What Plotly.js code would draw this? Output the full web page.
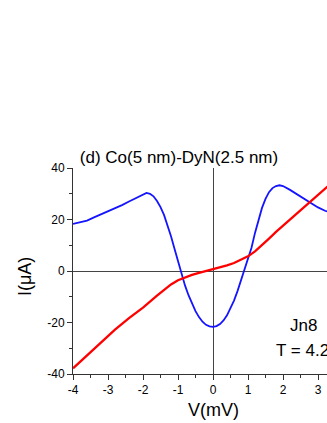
<!DOCTYPE html>
<html>
<head>
<meta charset="utf-8">
<script src="https://cdn.plot.ly/plotly-3.0.1.min.js"></script>
<style>
  html, body { margin: 0; padding: 0; background: #fff; }
  #chart { width: 327px; height: 423px; }
</style>
</head>
<body>
<div id="chart"></div>
<script>
// conductance-like curve (blue)
const blueV = [-4.0, -3.8, -3.6, -3.4, -3.2, -3.0, -2.8, -2.6, -2.4, -2.2, -2.0, -1.9, -1.8, -1.7, -1.6, -1.5,
  -1.4, -1.3, -1.2, -1.1, -1.0, -0.9, -0.8, -0.7, -0.6, -0.5, -0.4, -0.3, -0.2, -0.1, 0.0, 0.1, 0.2, 0.3,
  0.4, 0.5, 0.6, 0.7, 0.8, 0.9, 1.0, 1.1, 1.2, 1.3, 1.4, 1.5, 1.6, 1.7, 1.8, 1.9, 2.0, 2.2, 2.4, 2.6, 2.8,
  3.0, 3.2, 3.4];
const blueI = [18.3, 19.0, 19.6, 20.8, 22.0, 23.0, 24.2, 25.6, 27.0, 28.4, 29.8, 30.3, 30.0, 29.0, 27.2, 24.8,
  21.8, 18.0, 13.5, 8.6, 3.8, -1.5, -5.6, -9.4, -12.8, -15.6, -17.9, -19.7, -20.9, -21.5, -21.7, -21.4, -20.6,
  -19.2, -17.2, -14.6, -11.5, -7.8, -3.5, 0.6, 4.5, 9.0, 14.8, 20.0, 24.5, 28.0, 30.6, 32.2, 33.0, 33.3, 33.0,
  31.5, 29.8, 28.0, 26.2, 24.7, 23.4, 22.5];

// I-V curve (red)
const redV = [-4.0, -3.6, -3.2, -2.8, -2.4, -2.0, -1.6, -1.4, -1.2, -1.0, -0.8, -0.6, -0.4, -0.2, 0.0, 0.2,
  0.4, 0.6, 0.8, 1.0, 1.2, 1.4, 1.6, 1.8, 2.0, 2.2, 2.4, 2.6, 2.8, 3.0, 3.2, 3.4];
const redI = [-37.8, -32.8, -27.8, -22.8, -18.3, -14.2, -9.6, -7.3, -5.2, -3.6, -2.4, -1.5, -0.7, 0.0, 0.7, 1.4,
  2.2, 3.1, 4.3, 5.7, 7.6, 10.0, 12.6, 15.2, 17.6, 20.0, 22.3, 24.8, 27.2, 29.6, 32.0, 34.3];

const xTicks = [-4, -3, -2, -1, 0, 1, 2, 3];
const yTicks = [-40, -20, 0, 20, 40];

function draw() {
  const font = { family: "Arial, 'Liberation Sans', sans-serif", color: "#000" };
  const axisColor = "#333";
  // plot box in pixels: x 73..327, y 168..374
  const px = (p) => (p - 73) / 254;
  const py = (p) => (374 - p) / 206;

  const traces = [
    {
      type: "scatter", mode: "lines", x: blueV, y: blueI,
      line: { color: "#1414ff", width: 1.8 }, showlegend: false, hoverinfo: "skip"
    },
    {
      type: "scatter", mode: "lines", x: redV, y: redI,
      line: { color: "#ff0000", width: 2.3 }, showlegend: false, hoverinfo: "skip"
    }
  ];

  const layout = {
    width: 327,
    height: 423,
    margin: { l: 73, r: 0, t: 168, b: 49 },
    paper_bgcolor: "#fff",
    plot_bgcolor: "#fff",
    font: { ...font, size: 12 },
    title: {
      text: "(d) Co(5 nm)-DyN(2.5 nm)",
      font: { ...font, size: 17 },
      xref: "container", yref: "container",
      x: 179 / 327, xanchor: "center",
      y: 1 - 157 / 423, yanchor: "middle"
    },
    xaxis: {
      range: [-4, 3.257],
      tickvals: xTicks,
      ticktext: xTicks.map(String),
      ticks: "outside", ticklen: 5, tickwidth: 1, tickcolor: axisColor,
      minor: { dtick: 0.5, ticks: "outside", ticklen: 3, tickwidth: 1, tickcolor: axisColor },
      showline: true, linecolor: axisColor, linewidth: 1,
      showgrid: false,
      zeroline: true, zerolinecolor: "#444", zerolinewidth: 1,
      tickfont: { ...font, size: 12 }
    },
    xaxis2: {
      overlaying: "x", side: "top", anchor: "y", matches: "x",
      range: [-4, 3.257],
      tickvals: xTicks,
      ticks: "inside", ticklen: 4, tickwidth: 1, tickcolor: axisColor,
      showticklabels: false,
      showline: true, linecolor: axisColor, linewidth: 1,
      showgrid: false, zeroline: false
    },
    yaxis: {
      range: [-40, 40],
      tickvals: yTicks,
      ticktext: yTicks.map(String),
      ticks: "outside", ticklen: 5, tickwidth: 1, tickcolor: axisColor,
      minor: { dtick: 10, ticks: "outside", ticklen: 3, tickwidth: 1, tickcolor: axisColor },
      showline: true, linecolor: axisColor, linewidth: 1,
      showgrid: false,
      zeroline: true, zerolinecolor: "#444", zerolinewidth: 1,
      tickfont: { ...font, size: 12 }
    },
    annotations: [
      {
        text: "V(mV)", xref: "paper", yref: "paper",
        x: px(213), y: py(410),
        xanchor: "center", yanchor: "middle", showarrow: false,
        font: { ...font, size: 18 }
      },
      {
        text: "I(μA)", xref: "paper", yref: "paper",
        x: px(25), y: py(277), textangle: -90,
        xanchor: "center", yanchor: "middle", showarrow: false,
        font: { ...font, size: 18 }
      },
      {
        text: "Jn8", xref: "paper", yref: "paper",
        x: px(303), y: py(325),
        xanchor: "center", yanchor: "middle", showarrow: false,
        font: { ...font, size: 17 }
      },
      {
        text: "T = 4.2 K", xref: "paper", yref: "paper",
        x: px(274), y: py(350),
        xanchor: "left", yanchor: "middle", showarrow: false,
        font: { ...font, size: 17 }
      }
    ]
  };

  Plotly.newPlot("chart", traces, layout, { staticPlot: true, displayModeBar: false });
}

window.addEventListener("load", draw);
</script>
</body>
</html>
